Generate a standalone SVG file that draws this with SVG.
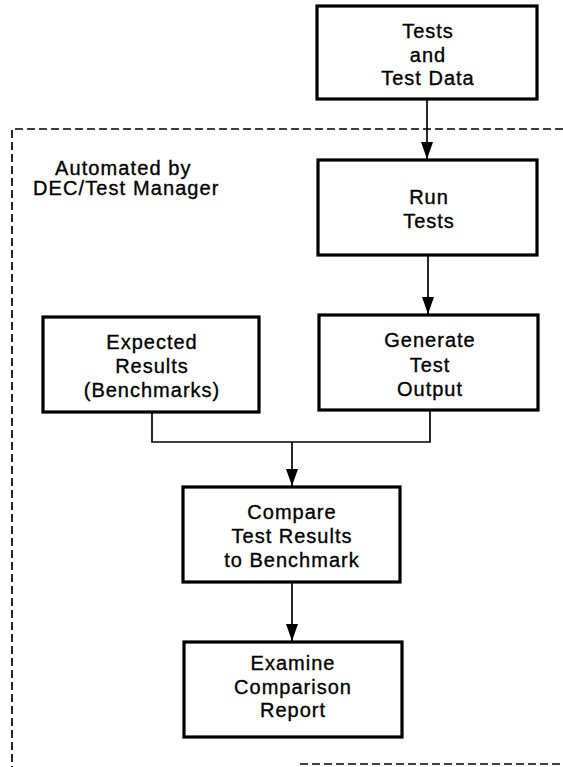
<svg xmlns="http://www.w3.org/2000/svg" width="563" height="767" viewBox="0 0 563 767">
<style>
.box{fill:#fff;stroke:#000;stroke-width:3.2}
.t{font-family:"Liberation Sans",Arial,sans-serif;font-size:20px;letter-spacing:1px;text-anchor:middle;fill:#000;stroke:#000;stroke-width:0.35}
.lab{font-family:"Liberation Sans",Arial,sans-serif;font-size:20px;letter-spacing:1.1px;fill:#000;stroke:#000;stroke-width:0.35}
.ln{fill:none;stroke:#000;stroke-width:1.7}
.dash{fill:none;stroke:#000;stroke-width:1.7;stroke-dasharray:8 4}
</style>
<defs>
<marker id="arr" viewBox="0 0 17 12" refX="17" refY="6" markerWidth="17" markerHeight="12" markerUnits="userSpaceOnUse" orient="auto">
<path d="M0,0 L17,6 L0,12 Z" fill="#000"/>
</marker>
</defs>
<g id="boundary">
<path class="dash" d="M563,129 H12 V767"/>
<path class="dash" d="M300,764 H563"/>
<text class="lab" x="55" y="175">Automated by</text>
<text class="lab" x="33" y="195">DEC/Test Manager</text>
</g>
<g id="connectors">
<path class="ln" d="M427,99 V159" marker-end="url(#arr)"/>
<path class="ln" d="M428,255 V314" marker-end="url(#arr)"/>
<path class="ln" d="M152,412 V442 H430 V410"/>
<path class="ln" d="M292,442 V486" marker-end="url(#arr)"/>
<path class="ln" d="M292,582 V641" marker-end="url(#arr)"/>
</g>
<g id="tests">
<rect class="box" x="317" y="6" width="220" height="93"/>
<text class="t" x="428" y="38">Tests</text>
<text class="t" x="428" y="62">and</text>
<text class="t" x="428" y="85">Test Data</text>
</g>
<g id="run">
<rect class="box" x="318" y="160" width="219" height="95"/>
<text class="t" x="429" y="204">Run</text>
<text class="t" x="429" y="228">Tests</text>
</g>
<g id="generate">
<rect class="box" x="319" y="315" width="219" height="95"/>
<text class="t" x="430" y="347">Generate</text>
<text class="t" x="430" y="372">Test</text>
<text class="t" x="430" y="396">Output</text>
</g>
<g id="expected">
<rect class="box" x="43" y="317" width="216" height="95"/>
<text class="t" x="152" y="349">Expected</text>
<text class="t" x="152" y="373">Results</text>
<text class="t" x="152" y="397">(Benchmarks)</text>
</g>
<g id="compare">
<rect class="box" x="183" y="487" width="217" height="95"/>
<text class="t" x="292" y="519">Compare</text>
<text class="t" x="292" y="543">Test Results</text>
<text class="t" x="292" y="567">to Benchmark</text>
</g>
<g id="examine">
<rect class="box" x="184" y="642" width="218" height="95"/>
<text class="t" x="293" y="670">Examine</text>
<text class="t" x="293" y="694">Comparison</text>
<text class="t" x="293" y="717">Report</text>
</g>
</svg>
